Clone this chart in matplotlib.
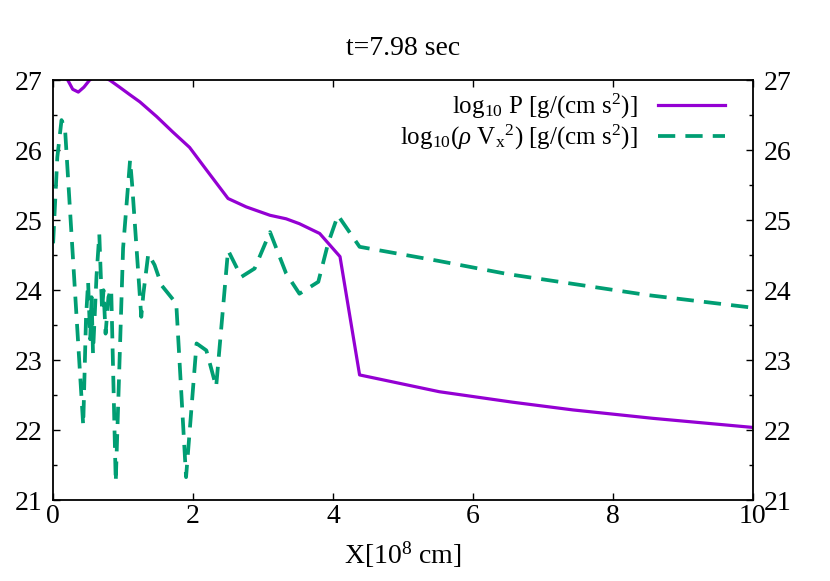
import numpy as np
import matplotlib
matplotlib.use("Agg")
import matplotlib.pyplot as plt
from matplotlib.ticker import MultipleLocator

plt.rcParams['font.family'] = ['Liberation Serif', 'DejaVu Serif']
plt.rcParams['mathtext.fontset'] = 'custom'
plt.rcParams['mathtext.rm'] = 'Liberation Serif'
plt.rcParams['mathtext.it'] = 'Liberation Serif:italic'

# pressure curve (log10 P)
x_p = [0.0, 0.10, 0.21, 0.28, 0.36, 0.44, 0.52, 0.65, 0.81, 0.95,
       1.10, 1.24, 1.48, 1.71, 1.95, 2.19, 2.50, 2.76, 3.10, 3.33,
       3.52, 3.81, 4.10, 4.38, 5.52, 6.57, 7.43, 8.57, 10.0]
logP = [27.20, 27.10, 27.00, 26.87, 26.83, 26.90, 27.00, 27.08, 27.00, 26.90,
        26.79, 26.69, 26.48, 26.26, 26.04, 25.72, 25.31, 25.19, 25.07, 25.02,
        24.95, 24.81, 24.48, 22.79, 22.55, 22.40, 22.29, 22.17, 22.04]

# ram pressure curve (log10 rho Vx^2)
x_r = [0.0, 0.06, 0.12, 0.17, 0.43, 0.47, 0.50, 0.53, 0.55, 0.57,
       0.62, 0.66, 0.70, 0.72, 0.75, 0.79, 0.83, 0.895, 1.00, 1.10,
       1.13, 1.26, 1.29, 1.36, 1.45, 1.55, 1.76, 1.90, 2.05, 2.19,
       2.33, 2.50, 2.69, 2.88, 3.10, 3.33, 3.52, 3.79, 3.93, 4.07,
       4.38, 5.50, 6.50, 7.50, 8.50, 10.0]
logRam = [24.67, 25.90, 26.43, 26.31, 22.07, 23.60, 24.12, 23.30, 23.90, 23.10,
          24.20, 24.80, 23.70, 24.00, 23.38, 23.90, 24.02, 21.26, 24.60, 25.86,
          25.50, 23.62, 23.95, 24.52, 24.36, 24.07, 23.81, 21.33, 23.24, 23.14,
          22.62, 24.57, 24.19, 24.31, 24.83, 24.24, 23.95, 24.12, 24.67, 25.07,
          24.62, 24.42, 24.23, 24.08, 23.93, 23.75]

fig = plt.figure(figsize=(8.3, 5.81), dpi=100)
ax = fig.add_axes([0.064, 0.139, 0.843, 0.723])

ax.plot(x_p, logP, color='#9400D3', lw=2.3,
        label=r'log$_{10}$ P [g/(cm s$^{2}$)]')
ax.plot(x_r, logRam, color='#009E73', lw=2.7, linestyle=(0, (4.6, 2.7)),
        label=r'log$_{10}$($\rho$ V$_{\rm x}$$^{2}$) [g/(cm s$^{2}$)]')

ax.set_xlim(0, 10)
ax.set_ylim(21, 27)
ax.xaxis.set_major_locator(MultipleLocator(2))
ax.yaxis.set_major_locator(MultipleLocator(1))
ax.yaxis.set_minor_locator(MultipleLocator(0.5))

ax.tick_params(which='both', direction='in', top=True, right=True,
               labelright=True, labelsize=20, width=1.0)
ax.tick_params(which='major', length=5)
ax.tick_params(which='minor', length=3)
ax.tick_params(axis='y', pad=8)
ax.tick_params(axis='x', pad=3)
for s in ax.spines.values():
    s.set_linewidth(1.3)

ax.set_xlabel('X[10$^{8}$ cm]', fontsize=20, labelpad=7)
ax.set_title('t=7.98 sec', fontsize=20, pad=18)

ax.legend(loc='upper right', frameon=False, markerfirst=False, fontsize=18,
          handlelength=2.7, handletextpad=0.8, borderaxespad=0.0,
          labelspacing=0.05, bbox_to_anchor=(0.975, 0.995))

fig.savefig('out.png', dpi=100)
